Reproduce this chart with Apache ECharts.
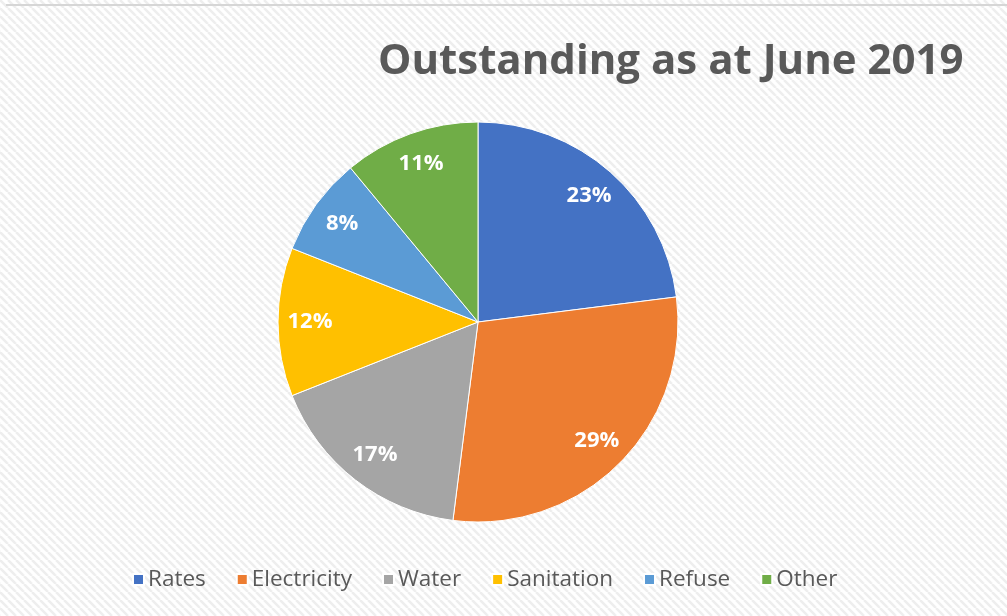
<!DOCTYPE html>
<html>
<head>
<meta charset="utf-8">
<title>Outstanding as at June 2019</title>
<script src="https://cdn.jsdelivr.net/npm/echarts@6/dist/echarts.min.js"></script>
<style>
  html, body { margin: 0; padding: 0; background: #ffffff; }
  #chart { width: 1007px; height: 616px; }
</style>
</head>
<body>
<div id="chart"></div>
<script>
// Outstanding balances by service, share of total (%)
const categories = ['Rates', 'Electricity', 'Water', 'Sanitation', 'Refuse', 'Other'];
const shares = [23, 29, 17, 12, 8, 11];
const sliceColors = ['#4472C4', '#ED7D31', '#A5A5A5', '#FFC000', '#5B9BD5', '#70AD47'];
const titleText = 'Outstanding as at June 2019';

const FONT = '"Open Sans", "Liberation Sans", sans-serif';

// light diagonal hatch used as the chart-area fill
function hatchTile() {
  const size = 8;
  const c = document.createElement('canvas');
  c.width = size; c.height = size;
  const g = c.getContext('2d');
  g.fillStyle = '#ffffff';
  g.fillRect(0, 0, size, size);
  g.strokeStyle = '#eeeeee';
  g.lineWidth = 2.5;
  for (let k = -1; k <= 1; k++) {
    g.beginPath();
    g.moveTo(k * size, 0);
    g.lineTo(k * size + size, size);
    g.stroke();
  }
  return c;
}

const pieData = categories.map((name, i) => ({
  name: name,
  value: shares[i],
  itemStyle: { color: sliceColors[i] }
}));

const chart = echarts.init(document.getElementById('chart'), null, { renderer: 'canvas' });

chart.setOption({
  backgroundColor: { image: hatchTile(), repeat: 'repeat' },
  animation: false,
  title: {
    text: titleText,
    left: 373,
    top: 36,
    textStyle: {
      fontFamily: FONT,
      fontSize: 42,
      fontWeight: 'bold',
      color: '#595959'
    }
  },
  legend: {
    data: categories,
    left: 127,
    top: 563,
    icon: 'rect',
    itemWidth: 11,
    itemHeight: 11,
    itemGap: 30,
    selectedMode: false,
    textStyle: {
      fontFamily: FONT,
      fontSize: 22.5,
      color: '#595959',
      padding: [0, 0, 0, -1]
    }
  },
  graphic: [{
    type: 'rect',
    silent: true,
    shape: { x: 6, y: 4, width: 1001, height: 2 },
    style: { fill: '#d6d6d6' }
  }],
  series: [
    {
      type: 'pie',
      center: [478, 322],
      radius: 200,
      startAngle: 90,
      clockwise: true,
      silent: true,
      label: { show: false },
      labelLine: { show: false },
      itemStyle: { borderColor: '#ffffff', borderWidth: 1 },
      data: pieData
    },
    {
      // ring carrying the percentage labels at the outer part of each slice
      type: 'pie',
      center: [478, 322],
      radius: [130, 200],
      startAngle: 90,
      clockwise: true,
      silent: true,
      legendHoverLink: false,
      itemStyle: { color: 'rgba(0,0,0,0)', borderWidth: 0 },
      label: {
        show: true,
        position: 'inside',
        formatter: '{c}%',
        fontFamily: FONT,
        fontSize: 22,
        fontWeight: 'bold',
        color: '#ffffff'
      },
      labelLine: { show: false },
      data: categories.map((name, i) => ({ name: name, value: shares[i] }))
    }
  ]
});
</script>
</body>
</html>
